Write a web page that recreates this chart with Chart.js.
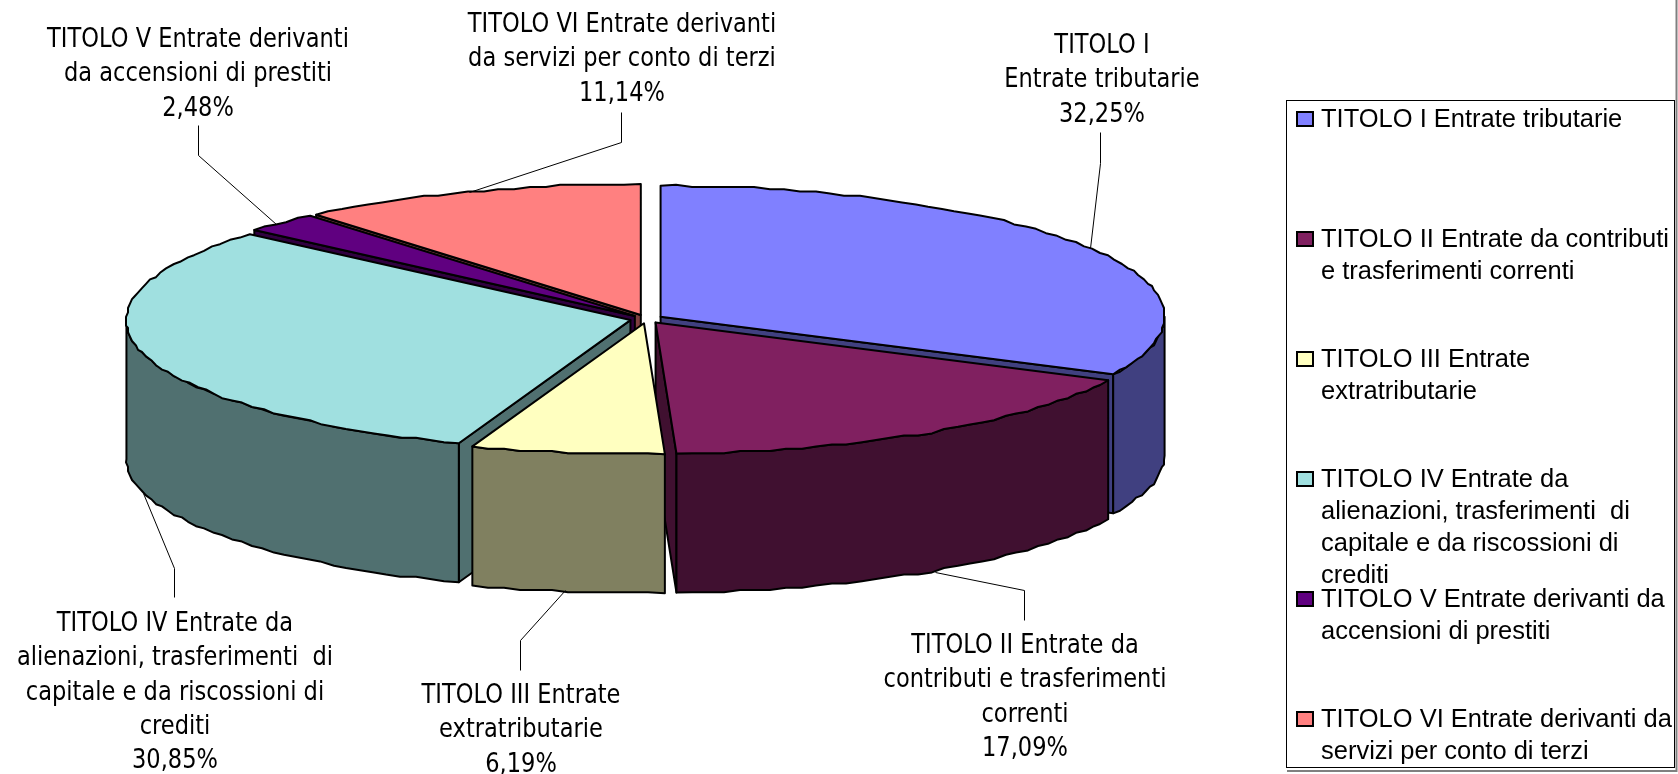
<!DOCTYPE html>
<html>
<head>
<meta charset="utf-8">
<style>html,body{margin:0;padding:0;background:#fff}canvas{display:block}</style>
<script src="https://cdn.jsdelivr.net/npm/chart.js@4"></script>
</head>
<body>
<canvas id="c" width="1678" height="774"></canvas>
<script>
const categories = [
  "TITOLO I Entrate tributarie",
  "TITOLO II Entrate da contributi e trasferimenti correnti",
  "TITOLO III Entrate extratributarie",
  "TITOLO IV Entrate da alienazioni, trasferimenti  di capitale e da riscossioni di crediti",
  "TITOLO V Entrate derivanti da accensioni di prestiti",
  "TITOLO VI Entrate derivanti da servizi per conto di terzi"
];
const percentages = [32.25, 17.09, 6.19, 30.85, 2.48, 11.14];
const percentLabels = ["32,25%", "17,09%", "6,19%", "30,85%", "2,48%", "11,14%"];
const topColors = ["#8080FF", "#802060", "#FFFFC0", "#A0E0E0", "#600080", "#FF8080"];
const wallColors = ["#404080", "#401030", "#808060", "#507070", "#300040", "#804040"];
const calloutLines = [
  ["TITOLO I", "Entrate tributarie"],
  ["TITOLO II Entrate da", "contributi e trasferimenti", "correnti"],
  ["TITOLO III Entrate", "extratributarie"],
  ["TITOLO IV Entrate da", "alienazioni, trasferimenti  di", "capitale e da riscossioni di", "crediti"],
  ["TITOLO V Entrate derivanti", "da accensioni di prestiti"],
  ["TITOLO VI Entrate derivanti", "da servizi per conto di terzi"]
];
const legendLines = [
  ["TITOLO I Entrate tributarie"],
  ["TITOLO II Entrate da contributi", "e trasferimenti correnti"],
  ["TITOLO III Entrate", "extratributarie"],
  ["TITOLO IV Entrate da", "alienazioni, trasferimenti  di", "capitale e da riscossioni di", "crediti"],
  ["TITOLO V Entrate derivanti da", "accensioni di prestiti"],
  ["TITOLO VI Entrate derivanti da", "servizi per conto di terzi"]
];

// layout / style (not data)
const RX = 504, RY = 131, DEPTH = 139;
const calloutPos = [
  {x:1102, y:53,  leader:[[1100,132],[1100,163],[1090,248]]},
  {x:1025, y:653, leader:[[1024,620],[1024,590],[935,572]]},
  {x:521,  y:703, leader:[[520,670],[520,640],[565,590]]},
  {x:175,  y:631, leader:[[174,597],[174,568],[143,493]]},
  {x:198,  y:47,  leader:[[198,125],[198,155],[276,224]]},
  {x:622,  y:32,  leader:[[621,112],[621,142],[469,192]]}
];
const CALLOUT_FONT = '26.5px "DejaVu Sans"', CALLOUT_LH = 34.3;
const LEGEND_FONT = '25px "Liberation Sans"', LEGEND_LH = 32;
const drawOrder = [5, 4, 0, 3, 1, 2];

function fittedText(ctx, font, refText, refWidth) {
  ctx.font = font;
  return refWidth / ctx.measureText(refText).width;
}
function scaledText(ctx, s, x, y, hs, align) {
  ctx.save();
  ctx.translate(x, y);
  ctx.scale(hs, 1);
  ctx.textAlign = align;
  ctx.textBaseline = 'alphabetic';
  ctx.fillText(s, 0, 0);
  ctx.restore();
}

const pie3d = {
  id: 'pie3d',
  beforeDatasetsDraw(chart) {
    const ctx = chart.ctx;
    const arcs = chart.getDatasetMeta(0).data;
    ctx.save();
    ctx.lineWidth = 2;
    ctx.lineJoin = 'round';
    ctx.strokeStyle = '#000';
    drawOrder.forEach(i => {
      const arc = arcs[i];
      const p = arc.getProps(['x','y','startAngle','endAngle','outerRadius'], true);
      const sx = RX / p.outerRadius, sy = RY / p.outerRadius;
      const mid = (p.startAngle + p.endAngle) / 2;
      const off = arc.options.offset;
      const ax = p.x + Math.cos(mid) * off * sx;
      const ay = p.y + Math.sin(mid) * off * sy;
      const pt = a => [ax + Math.cos(a) * RX, ay + Math.sin(a) * RY];
      const rim = (a0, a1) => {
        const out = [pt(a0)];
        const n = Math.max(1, Math.round((a1 - a0) / (Math.PI / 100)));
        for (let k = 1; k < n; k++) {
          const q = pt(a0 + (a1 - a0) * k / n);
          out.push([Math.round(q[0] / 2) * 2, Math.round(q[1] / 2.2) * 2.2]);
        }
        out.push(pt(a1));
        return out;
      };
      const shape = (pts, fill) => {
        ctx.beginPath();
        pts.forEach((q, j) => j ? ctx.lineTo(q[0], q[1]) : ctx.moveTo(q[0], q[1]));
        ctx.closePath();
        ctx.fillStyle = fill;
        ctx.fill();
        ctx.stroke();
      };
      const face = a => {
        const r = pt(a);
        shape([[ax, ay], r, [r[0], r[1] + DEPTH], [ax, ay + DEPTH]], wallColors[i]);
      };
      if (Math.cos(p.startAngle) < 0) face(p.startAngle);
      if (Math.cos(p.endAngle) > 0) face(p.endAngle);
      const v0 = Math.max(p.startAngle, 0), v1 = Math.min(p.endAngle, Math.PI);
      if (v1 > v0) {
        const top = rim(v0, v1);
        const bottom = top.slice().reverse().map(q => [q[0], q[1] + DEPTH]);
        shape(top.concat(bottom), wallColors[i]);
      }
      shape([[ax, ay]].concat(rim(p.startAngle, p.endAngle)), arc.options.backgroundColor);
    });
    ctx.restore();
    return false;
  },
  afterDraw(chart) {
    const ctx = chart.ctx;
    ctx.save();
    // grey frame on the right edge and under the legend
    ctx.strokeStyle = '#808080';
    ctx.lineWidth = 2;
    ctx.beginPath();
    ctx.moveTo(1676.5, 0);
    ctx.lineTo(1676.5, 771);
    ctx.lineTo(1287, 771);
    ctx.stroke();
    // callout leaders
    ctx.strokeStyle = '#000';
    ctx.lineWidth = 1;
    calloutPos.forEach(c => {
      ctx.beginPath();
      c.leader.forEach((q, j) => j ? ctx.lineTo(q[0] + .5, q[1] + .5) : ctx.moveTo(q[0] + .5, q[1] + .5));
      ctx.stroke();
    });
    // callouts
    ctx.fillStyle = '#000';
    const hsC = fittedText(ctx, CALLOUT_FONT, "contributi e trasferimenti", 283);
    calloutPos.forEach((c, i) => {
      calloutLines[i].concat(percentLabels[i]).forEach((s, j) => {
        scaledText(ctx, s, c.x, c.y + j * CALLOUT_LH, hsC, 'center');
      });
    });
    // legend
    ctx.strokeStyle = '#000';
    ctx.lineWidth = 1;
    ctx.strokeRect(1286.5, 100.5, 388, 667);
    const hsL = fittedText(ctx, LEGEND_FONT, "TITOLO II Entrate da contributi", 348);
    legendLines.forEach((lines, i) => {
      const base = 127 + i * 120;
      ctx.fillStyle = topColors[i];
      ctx.strokeStyle = '#000';
      ctx.lineWidth = 2;
      ctx.fillRect(1297, base - 15, 16, 14);
      ctx.strokeRect(1297, base - 15, 16, 14);
      ctx.fillStyle = '#000';
      lines.forEach((s, j) => scaledText(ctx, s, 1321, base + j * LEGEND_LH, hsL, 'left'));
    });
    ctx.restore();
  }
};

new Chart(document.getElementById('c'), {
  type: 'pie',
  data: {
    labels: categories,
    datasets: [{
      data: percentages,
      backgroundColor: topColors,
      borderColor: '#000',
      borderWidth: 2,
      offset: 10.3
    }]
  },
  options: {
    responsive: false,
    animation: false,
    layout: { padding: { left: 0, top: 0, right: 385, bottom: 136 } },
    plugins: { legend: { display: false }, tooltip: { enabled: false } }
  },
  plugins: [pie3d]
});
</script>
</body>
</html>
